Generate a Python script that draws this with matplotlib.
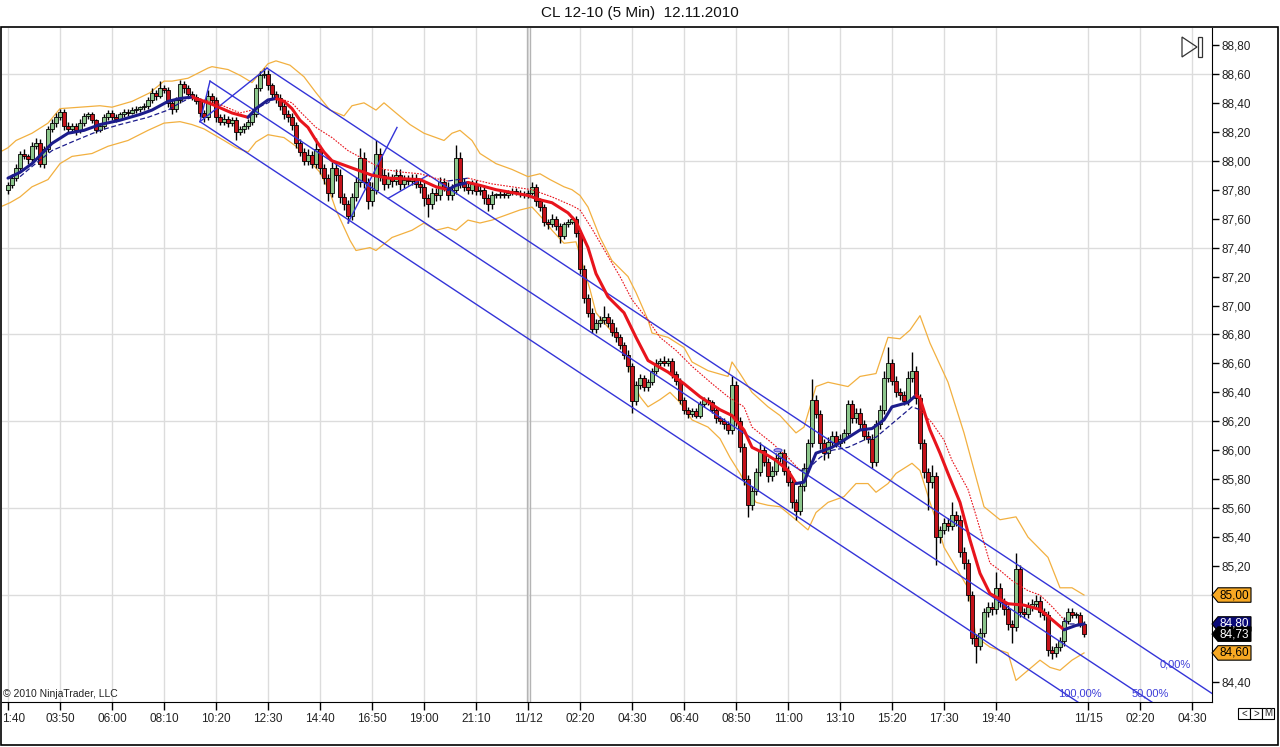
import numpy as np
import matplotlib.pyplot as plt
from matplotlib.patches import Rectangle, Polygon, Ellipse
import matplotlib.transforms as mtransforms

plt.rcParams['font.family'] = ['Liberation Sans', 'DejaVu Sans']

title = 'CL 12-10 (5 Min)  12.11.2010'

# one candle drawn per two 5-min bars, closes
first_open = 87.80
closes = [
  87.83, 87.88, 87.95, 88.05, 88.03, 88.01, 88.10, 88.12, 87.98, 88.08,
  88.22, 88.26, 88.30, 88.34, 88.24, 88.22, 88.24, 88.21, 88.26, 88.31,
  88.32, 88.28, 88.21, 88.24, 88.30, 88.33, 88.30, 88.29, 88.32, 88.34,
  88.33, 88.35, 88.36, 88.37, 88.38, 88.42, 88.47, 88.45, 88.50, 88.49,
  88.40, 88.36, 88.42, 88.53, 88.50, 88.46, 88.44, 88.41, 88.33, 88.30,
  88.45, 88.42, 88.30, 88.27, 88.29, 88.26, 88.28, 88.20, 88.22, 88.24,
  88.27, 88.32, 88.50, 88.59, 88.60, 88.52, 88.46, 88.43, 88.38, 88.32,
  88.30, 88.25, 88.12, 88.06, 88.00, 88.04, 87.98, 88.08, 87.95, 87.88,
  87.78, 87.95, 87.90, 87.75, 87.70, 87.62, 87.75, 87.85, 88.02, 87.85,
  87.72, 87.80, 88.05, 87.90, 87.84, 87.88, 87.86, 87.90, 87.84, 87.87,
  87.86, 87.88, 87.84, 87.82, 87.74, 87.70, 87.78, 87.76, 87.85, 87.82,
  87.76, 87.80, 88.02, 87.85, 87.82, 87.80, 87.84, 87.79, 87.80, 87.74,
  87.70, 87.76, 87.76, 87.77, 87.76, 87.78, 87.79, 87.78, 87.77, 87.76,
  87.78, 87.82, 87.72, 87.68, 87.58, 87.56, 87.60, 87.55, 87.48, 87.56,
  87.58, 87.60, 87.50, 87.25, 87.05, 86.95, 86.84, 86.88, 86.90, 86.92,
  86.88, 86.82, 86.78, 86.73, 86.66, 86.58, 86.34, 86.45, 86.50, 86.44,
  86.47, 86.55, 86.60, 86.62, 86.60, 86.62, 86.53, 86.48, 86.35, 86.28,
  86.25, 86.27, 86.24, 86.32, 86.35, 86.33, 86.28, 86.22, 86.20, 86.18,
  86.14, 86.45, 86.20, 86.02, 85.80, 85.62, 85.72, 85.85, 86.00, 85.92,
  85.82, 85.86, 85.95, 85.98, 85.86, 85.78, 85.64, 85.58, 85.75, 85.88,
  86.05, 86.35, 86.25, 86.05, 85.98, 86.06, 86.10, 86.05, 86.08, 86.12,
  86.32, 86.22, 86.26, 86.18, 86.10, 86.08, 85.92, 86.18, 86.28, 86.50,
  86.60, 86.48, 86.40, 86.38, 86.34, 86.50, 86.55, 86.36, 86.05, 85.85,
  85.78, 85.82, 85.40, 85.45, 85.50, 85.48, 85.55, 85.52, 85.30, 85.22,
  85.00, 84.70, 84.65, 84.74, 84.88, 84.92, 84.90, 85.05, 84.95, 84.90,
  84.80, 84.78, 85.18, 84.88, 84.87, 84.92, 84.94, 84.96, 84.88, 84.86,
  84.62, 84.60, 84.64, 84.68, 84.82, 84.88, 84.86, 84.86, 84.80, 84.73,
]
# wick lengths in cents above / below the body
up_wick = [
  2, 3, 3, 2, 3, 2, 3, 4, 3, 2,   2, 3, 3, 2, 2, 3, 2, 2, 3, 2,
  2, 2, 1, 2, 2, 2, 2, 2, 2, 2,   2, 2, 2, 1, 2, 2, 3, 2, 5, 2,
  2, 2, 2, 3, 2, 2, 2, 2, 2, 2,   4, 2, 2, 2, 3, 2, 2, 2, 2, 2,
  2, 2, 3, 3, 4, 3, 2, 2, 3, 3,   3, 3, 2, 3, 3, 4, 3, 8, 3, 3,
  3, 4, 4, 4, 3, 3, 3, 4, 7, 4,   3, 5, 9, 4, 4, 4, 3, 4, 4, 3,
  3, 3, 3, 3, 3, 3, 3, 3, 4, 3,   3, 4, 9, 4, 3, 3, 3, 3, 3, 3,
  3, 3, 2, 2, 2, 2, 2, 2, 2, 2,   2, 3, 2, 2, 2, 2, 3, 2, 2, 2,
  2, 2, 2, 2, 3, 3, 3, 3, 3, 8,   3, 3, 3, 2, 2, 3, 2, 3, 3, 2,
  2, 2, 3, 2, 3, 2, 2, 2, 2, 2,   2, 2, 2, 2, 2, 2, 2, 2, 2, 2,
  2, 6, 3, 3, 3, 3, 3, 3, 6, 3,   3, 3, 3, 3, 3, 3, 3, 2, 3, 3,
  3, 14, 3, 3, 3, 3, 3, 3, 3, 3,  3, 3, 3, 3, 3, 3, 3, 3, 3, 5,
  11, 3, 3, 3, 3, 5, 13, 3, 3, 3, 3, 8, 3, 3, 3, 3, 9, 3, 3, 3,
  3, 3, 3, 3, 3, 3, 3, 11, 3, 3,  3, 3, 11, 3, 3, 3, 3, 4, 3, 3,
  3, 3, 3, 3, 3, 3, 3, 2, 2, 2,
]
dn_wick = [
  3, 2, 2, 3, 2, 3, 2, 2, 2, 3,   2, 2, 3, 2, 3, 2, 2, 3, 2, 2,
  2, 2, 2, 1, 2, 2, 2, 2, 1, 2,   2, 1, 2, 2, 2, 2, 2, 3, 2, 2,
  3, 4, 2, 2, 3, 2, 2, 2, 3, 3,   2, 2, 3, 2, 2, 3, 2, 6, 2, 3,
  2, 2, 2, 2, 2, 3, 3, 3, 3, 3,   3, 4, 3, 3, 3, 3, 3, 3, 4, 4,
  6, 3, 4, 4, 4, 5, 3, 3, 3, 4,   5, 3, 3, 4, 4, 3, 4, 3, 4, 3,
  3, 3, 3, 4, 5, 9, 3, 4, 3, 3,   3, 3, 3, 4, 3, 3, 3, 3, 3, 4,
  5, 3, 2, 2, 2, 2, 2, 2, 2, 2,   2, 2, 3, 3, 3, 3, 2, 3, 5, 2,
  2, 2, 3, 3, 3, 3, 3, 3, 3, 3,   3, 3, 3, 3, 3, 4, 8, 3, 3, 3,
  3, 2, 2, 2, 2, 2, 3, 3, 3, 3,   3, 2, 2, 2, 2, 2, 2, 3, 2, 3,
  3, 3, 3, 3, 4, 8, 3, 3, 3, 3,   4, 3, 3, 3, 3, 3, 4, 6, 3, 3,
  3, 3, 3, 4, 5, 3, 3, 3, 3, 3,   3, 3, 3, 3, 3, 3, 4, 3, 3, 3,
  3, 3, 3, 3, 3, 3, 3, 4, 4, 4,   19, 4, 19, 4, 3, 4, 3, 4, 4, 4,
  4, 4, 12, 3, 3, 3, 4, 3, 3, 4,  4, 11, 3, 3, 3, 3, 3, 3, 3, 3,
  4, 4, 3, 3, 3, 2, 2, 2, 2, 2,
]

# moving average (thick) and its companion (dotted), in 5-min bar units
ma_bars = [0, 6, 12, 17, 22, 30, 38, 46, 56, 66, 72, 80, 86, 92, 102, 112, 120, 124, 130, 134,
           138, 142, 146, 150, 154, 158, 162, 170, 174, 182, 190, 206, 214, 220, 224, 230, 236, 244, 252, 260,
           266, 272, 280, 284, 290, 294, 300, 308, 314, 320, 330, 338, 346, 356, 362, 368, 372, 378, 384, 390,
           394, 398, 404, 412, 418, 426, 432, 438, 442, 450, 454, 456, 461, 466, 470, 476, 481, 486, 491, 500,
           508, 516, 522, 528, 530, 534, 538]
ma_vals = [87.88, 87.92, 87.98, 88.05, 88.12, 88.19, 88.21, 88.25, 88.28, 88.32, 88.35, 88.41, 88.43, 88.44, 88.39, 88.33, 88.30, 88.36, 88.42, 88.43,
           88.41, 88.36, 88.28, 88.23, 88.14, 88.06, 88.00, 87.96, 87.94, 87.90, 87.88, 87.87, 87.82, 87.80, 87.83, 87.85, 87.83, 87.80, 87.78, 87.76,
           87.73, 87.71, 87.64, 87.58, 87.40, 87.22, 87.06, 86.95, 86.78, 86.62, 86.54, 86.46, 86.37, 86.28, 86.24, 86.14, 86.02, 85.98, 85.93, 85.86,
           85.77, 85.78, 85.98, 86.02, 86.07, 86.14, 86.15, 86.21, 86.30, 86.33, 86.38, 86.36, 86.14, 85.98, 85.84, 85.64, 85.38, 85.15, 85.01, 84.94,
           84.93, 84.90, 84.83, 84.76, 84.77, 84.79, 84.80]
sig_bars = [6, 12, 22, 32, 46, 56, 70, 80, 86, 92, 104, 116, 122, 130, 134, 142, 146, 154, 162, 170,
            178, 188, 198, 206, 216, 220, 230, 242, 252, 262, 272, 282, 286, 292, 300, 306, 312, 320, 326, 334,
            342, 352, 360, 368, 372, 382, 390, 396, 400, 406, 412, 420, 428, 434, 440, 446, 452, 456, 462, 468,
            472, 480, 484, 491, 496, 502, 510, 516, 522, 528, 530, 534, 538]
sig_vals = [87.89, 87.96, 88.07, 88.13, 88.21, 88.25, 88.30, 88.35, 88.40, 88.44, 88.40, 88.33, 88.35, 88.40, 88.44, 88.40, 88.34, 88.23, 88.16, 88.07,
            88.01, 87.94, 87.92, 87.91, 87.87, 87.86, 87.88, 87.84, 87.82, 87.80, 87.75, 87.69, 87.66, 87.53, 87.34, 87.20, 87.04, 86.90, 86.78, 86.69,
            86.58, 86.46, 86.37, 86.30, 86.16, 86.05, 85.95, 85.86, 85.87, 85.95, 86.00, 86.02, 86.07, 86.09, 86.16, 86.23, 86.30, 86.28, 86.19, 86.07,
            85.93, 85.73, 85.55, 85.22, 85.17, 85.10, 85.03, 85.00, 84.92, 84.83, 84.80, 84.80, 84.79]

# envelope bands (orange)
upper_bars = [-4, 0, 4, 12, 20, 26, 36, 46, 52, 62, 71, 78, 82, 90, 100, 102, 110, 116, 122, 130,
              134, 141, 148, 154, 161, 168, 172, 178, 184, 188, 194, 201, 208, 218, 222, 226, 232, 236, 244, 252,
              260, 266, 271, 278, 282, 286, 290, 296, 302, 310, 314, 320, 322, 330, 338, 342, 350, 360, 362, 366,
              372, 380, 386, 394, 398, 404, 410, 420, 426, 434, 440, 446, 451, 456, 461, 470, 478, 488, 496, 504,
              510, 520, 526, 532, 538]
upper_vals = [88.06, 88.09, 88.14, 88.19, 88.26, 88.36, 88.37, 88.38, 88.37, 88.41, 88.47, 88.55, 88.55, 88.57, 88.64, 88.65, 88.63, 88.59, 88.54, 88.67,
              88.69, 88.66, 88.58, 88.47, 88.35, 88.31, 88.38, 88.40, 88.35, 88.40, 88.33, 88.25, 88.19, 88.14, 88.19, 88.21, 88.14, 88.05, 87.98, 87.94,
              87.89, 87.91, 87.87, 87.82, 87.80, 87.76, 87.68, 87.47, 87.31, 87.20, 87.09, 86.90, 86.81, 86.78, 86.71, 86.61, 86.55, 86.51, 86.61, 86.53,
              86.40, 86.30, 86.24, 86.12, 86.16, 86.44, 86.47, 86.44, 86.51, 86.53, 86.78, 86.77, 86.83, 86.93, 86.74, 86.47, 86.12, 85.61, 85.52, 85.54,
              85.40, 85.26, 85.05, 85.05, 85.00]
lower_bars = [-4, 1, 6, 12, 20, 26, 32, 42, 50, 60, 70, 78, 86, 92, 98, 108, 114, 120, 124, 130,
              138, 144, 150, 156, 161, 164, 168, 171, 174, 181, 184, 192, 202, 208, 214, 220, 224, 230, 236, 242,
              250, 256, 262, 268, 272, 278, 284, 291, 294, 300, 306, 310, 312, 316, 320, 326, 331, 336, 342, 350,
              356, 361, 366, 371, 374, 380, 386, 394, 400, 404, 410, 418, 424, 430, 434, 440, 444, 452, 456, 461,
              464, 468, 474, 480, 484, 491, 500, 504, 510, 516, 521, 526, 532, 538]
lower_vals = [87.68, 87.71, 87.75, 87.82, 87.87, 87.98, 88.03, 88.05, 88.10, 88.14, 88.21, 88.26, 88.27, 88.25, 88.22, 88.14, 88.09, 88.06, 88.13, 88.18,
              88.16, 88.10, 88.01, 87.92, 87.78, 87.66, 87.54, 87.45, 87.38, 87.40, 87.38, 87.47, 87.52, 87.57, 87.52, 87.54, 87.52, 87.59, 87.57, 87.59,
              87.63, 87.66, 87.68, 87.59, 87.52, 87.43, 87.44, 87.11, 86.95, 86.85, 86.76, 86.62, 86.49, 86.37, 86.30, 86.35, 86.40, 86.33, 86.21, 86.16,
              86.08, 85.95, 85.84, 85.71, 85.64, 85.62, 85.61, 85.52, 85.45, 85.57, 85.64, 85.68, 85.77, 85.77, 85.71, 85.77, 85.84, 85.91, 85.86, 85.64,
              85.52, 85.33, 85.19, 85.05, 84.71, 84.64, 84.60, 84.41, 84.48, 84.55, 84.50, 84.48, 84.55, 84.60]

# drawn channel: (bar, price) anchors
channel_lines = [
  [(129.5, 88.64), (602.0, 84.32)],
  [(101.0, 88.55), (572.0, 84.26)],
  [(96.0, 88.27), (535.0, 84.26)],
  [(101.0, 88.55), (96.0, 88.27)],
  [(96.0, 88.27), (129.5, 88.64)],
  [(170.0, 87.57), (194.5, 88.23)],
  [(190.0, 87.74), (210.0, 87.90)],
]

x_tick_bars = [0, 26, 52, 78, 104, 130, 156, 182, 208, 234, 260, 286, 312, 338, 364, 390, 416, 442, 468, 494, 540, 566, 592]
x_tick_labels = ['1:40', '03:50', '06:00', '08:10', '10:20', '12:30', '14:40', '16:50', '19:00', '21:10', '11/12',
                 '02:20', '04:30', '06:40', '08:50', '11:00', '13:10', '15:20', '17:30', '19:40', '11/15', '02:20', '04:30']
price_ticks = np.round(np.arange(84.40, 88.81, 0.20), 2)
grid_prices = [85.00, 85.60, 86.20, 86.80, 87.40, 88.00, 88.60]
session_break = 260

W, H = 1280, 747
def fx(x):
  return x / W
def fy(y):
  return 1 - y / H

fig = plt.figure(figsize=(12.8, 7.47), dpi=100)
fig.patch.set_facecolor('white')
ax = fig.add_axes([fx(2), fy(702), fx(1212) - fx(2), fy(28) - fy(702)])
ax.set_xlim(-3, 602)
ax.set_ylim(84.261, 88.917)

# grid
for b in x_tick_bars:
  ax.axvline(b, color='#dcdcdc', lw=1, zorder=0)
for p in grid_prices:
  ax.axhline(p, color='#dcdcdc', lw=1, zorder=0)
ax.axvline(session_break - 0.6, color='#b4b4b4', lw=1, zorder=0)
ax.axvline(session_break + 0.9, color='#b4b4b4', lw=1, zorder=0)

# bands
ax.plot(upper_bars, upper_vals, color='#f2b040', lw=0.9, zorder=2)
ax.plot(lower_bars, lower_vals, color='#f2b040', lw=0.9, zorder=2)

# candles
closes_a = np.array(closes)
opens_a = np.array([first_open] + closes[:-1])
highs = np.maximum(opens_a, closes_a) + np.array(up_wick) / 100
lows = np.minimum(opens_a, closes_a) - np.array(dn_wick) / 100
bx = 2 * np.arange(len(closes))
body_colors = ['#8cc68c' if c >= o else '#c4121a' for o, c in zip(opens_a, closes_a)]
ax.vlines(bx, lows, highs, color='black', lw=1.0, zorder=3)
ax.bar(bx, np.maximum(np.abs(closes_a - opens_a), 0.008), bottom=np.minimum(opens_a, closes_a),
       width=1.7, color=body_colors, edgecolor='black', linewidth=0.6, zorder=3)

# channel
for (x0, y0), (x1, y1) in channel_lines:
  ax.plot([x0, x1], [y0, y1], color='#3434d8', lw=1.0, zorder=4)

# moving averages, red while falling, navy while rising
ma_up = np.diff(ma_vals) > 0
def runs(flags):
  out = []
  start = 0
  for k in range(1, len(flags) + 1):
    if k == len(flags) or flags[k] != flags[start]:
      out.append((start, k, flags[start]))
      start = k
  return out

for s, e, up in runs(list(ma_up)):
  ax.plot(ma_bars[s:e + 1], ma_vals[s:e + 1], color='#1c1c8c' if up else '#e8141c',
          lw=2.2, solid_capstyle='round', zorder=5)

sig_mid = (np.array(sig_bars[:-1]) + np.array(sig_bars[1:])) / 2
idx = np.clip(np.searchsorted(ma_bars, sig_mid) - 1, 0, len(ma_up) - 1)
sig_up = list(ma_up[idx])
for s, e, up in runs(sig_up):
  if up:
    ax.plot(sig_bars[s:e + 1], sig_vals[s:e + 1], color='#1c1c8c', lw=0.9, ls=(0, (4, 2)), zorder=5)
  else:
    ax.plot(sig_bars[s:e + 1], sig_vals[s:e + 1], color='#e8141c', lw=0.8, ls=(0, (1.5, 1.2)), zorder=5)

ax.add_patch(Ellipse((385, 86.00), 4, 0.022, facecolor='#b0a0e8', edgecolor='#5050d0', lw=0.8, zorder=6))

# channel labels
ax.text(576, 84.517, '0,00%', color='#3c3cd8', fontsize=8, va='center', ha='left', zorder=6)
ax.text(562, 84.317, '50,00%', color='#3c3cd8', fontsize=8, va='center', ha='left', zorder=6)
ax.text(525, 84.317, '100,00%', color='#3c3cd8', fontsize=8, va='center', ha='left', zorder=6)

# axes styling
for side in ['top', 'left']:
  ax.spines[side].set_visible(False)
ax.spines['bottom'].set_color('black')
ax.spines['right'].set_color('black')
ax.set_xticks(x_tick_bars)
ax.set_xticklabels(x_tick_labels)
ax.yaxis.tick_right()
ax.set_yticks(price_ticks)
ax.set_yticklabels([f'{p:.2f}'.replace('.', ',') for p in price_ticks])
ax.tick_params(axis='x', direction='out', length=6, width=1, pad=2, labelsize=8.5, colors='black', labelcolor='#222222')
ax.tick_params(axis='y', direction='out', length=5, width=1, pad=1.5, labelsize=8.5, colors='black', labelcolor='#222222')
first_label = ax.get_xticklabels()[0]
first_label.set_horizontalalignment('left')
first_label.set_transform(first_label.get_transform() + mtransforms.ScaledTranslation(-6 / 100, 0, fig.dpi_scale_trans))

# last value markers on the price axis
trans = mtransforms.blended_transform_factory(fig.transFigure, ax.transData)
markers = [
  (upper_vals[-1], '#f7a823', 'black'),
  (ma_vals[-1], '#0a0a78', 'white'),
  (closes[-1], '#000000', 'white'),
  (lower_vals[-1], '#f7a823', 'black'),
]
hh = 0.05
for v, fc, tc in markers:
  poly = Polygon([(fx(1212), v), (fx(1218), v + hh), (fx(1251), v + hh), (fx(1251), v - hh), (fx(1218), v - hh)],
                 closed=True, transform=trans, facecolor=fc, edgecolor='black', lw=0.8, clip_on=False, zorder=20)
  ax.add_artist(poly)
  ax.text(fx(1234.5), v, f'{v:.2f}'.replace('.', ','), transform=trans, ha='center', va='center',
          fontsize=8.5, color=tc, clip_on=False, zorder=21)

# title, frame, decorations
fig.text(0.5, fy(13), title, ha='center', va='center', fontsize=11, color='#111111')
fig.text(fx(3), fy(694), '\u00a9 2010 NinjaTrader, LLC', ha='left', va='center', fontsize=7.5, color='#222222')
fig.add_artist(Rectangle((fx(1), fy(745)), fx(1277), fy(27) - fy(745), transform=fig.transFigure,
                         fill=False, edgecolor='black', lw=1.2))
fig.add_artist(Polygon([(fx(1182), fy(37)), (fx(1182), fy(57)), (fx(1197), fy(47))], closed=True,
                       transform=fig.transFigure, fill=False, edgecolor='#333333', lw=0.9))
fig.add_artist(Rectangle((fx(1198), fy(57)), fx(4), fy(37) - fy(57), transform=fig.transFigure,
                         fill=False, edgecolor='#333333', lw=0.9))
for k, ch in enumerate(['<', '>', 'M']):
  x0 = 1238 + k * 12
  fig.add_artist(Rectangle((fx(x0), fy(719)), fx(12), fy(708) - fy(719), transform=fig.transFigure,
                           facecolor='white', edgecolor='black', lw=0.8))
  fig.text(fx(x0 + 6), fy(713.5), ch, ha='center', va='center', fontsize=7, color='#222222')

fig.savefig('out.png', dpi=100)
